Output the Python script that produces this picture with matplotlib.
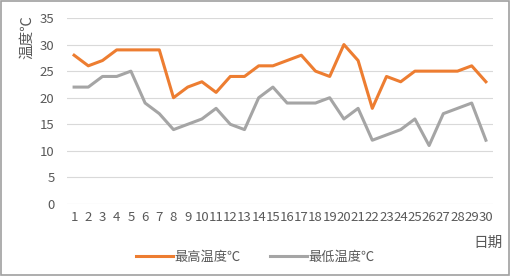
import matplotlib.pyplot as plt
import numpy as np

plt.rcParams['font.family'] = ['Noto Sans CJK SC', 'DejaVu Sans']

days = [str(d) for d in range(1, 31)]
t_max = [28, 26, 27, 29, 29, 29, 29, 20, 22, 23, 21, 24, 24, 26, 26,
         27, 28, 25, 24, 30, 27, 18, 24, 23, 25, 25, 25, 25, 26, 23]
t_min = [22, 22, 24, 24, 25, 19, 17, 14, 15, 16, 18, 15, 14, 20, 22,
         19, 19, 19, 20, 16, 18, 12, 13, 14, 16, 11, 17, 18, 19, 12]

fig = plt.figure(figsize=(5.11, 2.76), dpi=100)
ax = fig.add_axes([67/511, 1 - 204/276, 426/511, 186/276])

x = np.arange(len(days))
ax.plot(x, t_max, color='#ED7D31', lw=2.2, label='最高温度℃')
ax.plot(x, t_min, color='#A5A5A5', lw=2.2, label='最低温度℃')

ax.set_xlim(-0.5, len(days) - 0.5)
ax.set_ylim(0, 35)
ax.set_yticks(range(0, 36, 5))
ax.set_xticks(x)
ax.set_xticklabels(days)
ax.tick_params(length=0, labelsize=9.5, colors='#595959')
ax.tick_params(axis='y', pad=9)
ax.tick_params(axis='x', pad=5)
ax.grid(axis='y', color='#D9D9D9', lw=0.8)
ax.set_axisbelow(True)
for s in ax.spines.values():
    s.set_visible(False)

fig.text(27/511, 1 - 37/276, '温度℃', rotation=90, ha='center', va='center',
         fontsize=10.5, color='#595959')
fig.text(488/511, 1 - 243/276, '日期', ha='center', va='center',
         fontsize=10.5, color='#595959')

fig.legend(loc='center', bbox_to_anchor=(0.5, 1 - 257/276), ncol=2,
           frameon=False, fontsize=9.5, handlelength=2.8, columnspacing=2.2,
           handletextpad=0.1, labelcolor='#595959')

border = plt.Rectangle((0.002, 0.004), 0.995, 0.992, transform=fig.transFigure,
                       fill=False, edgecolor='#A0A0A0', lw=1.2)
fig.add_artist(border)

fig.savefig('out.png', dpi=100)
